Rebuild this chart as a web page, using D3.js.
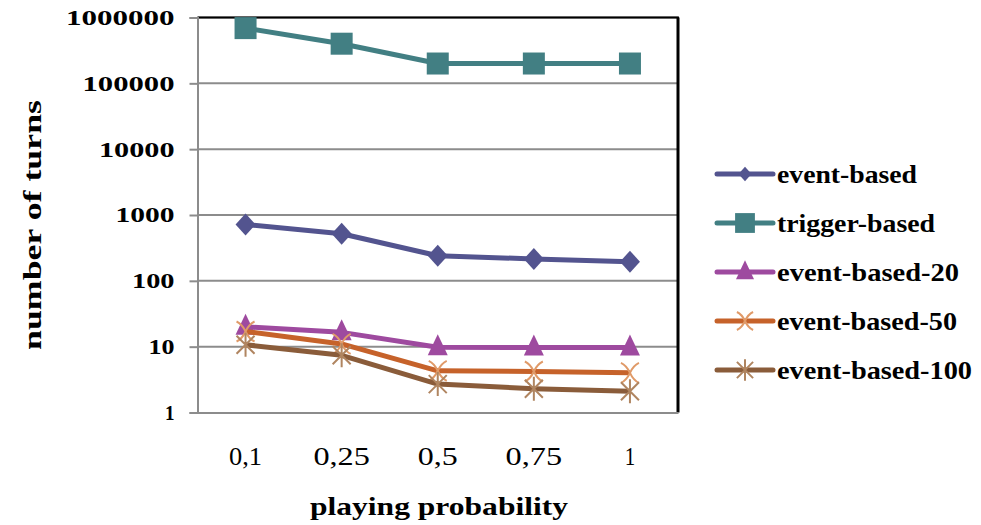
<!DOCTYPE html>
<html>
<head>
<meta charset="utf-8">
<script src="https://cdn.jsdelivr.net/npm/d3@7"></script>
<style>
  html, body { margin: 0; padding: 0; background: #fff; }
  svg { display: block; }
  text { font-family: "Liberation Serif", "DejaVu Serif", serif; fill: #000; }
</style>
</head>
<body>
<svg id="chart" width="981" height="525"></svg>
<script>
// Playing probability categories on the x axis
const categories = ["0,1", "0,25", "0,5", "0,75", "1"];

// Number of turns per strategy
const eventBased    = [720, 520, 240, 215, 195];
const triggerBased  = [690000, 400000, 200000, 200000, 200000];
const eventBased20  = [20, 16.5, 9.8, 9.7, 9.7];
const eventBased50  = [17, 11, 4.3, 4.2, 4.0];
const eventBased100 = [10.7, 7.4, 2.7, 2.3, 2.1];

const seriesNames = ["event-based", "trigger-based", "event-based-20", "event-based-50", "event-based-100"];
const yTicks = [1, 10, 100, 1000, 10000, 100000, 1000000];

const seriesValues = [eventBased, triggerBased, eventBased20, eventBased50, eventBased100];
const lineColors   = ["#53548F", "#427F83", "#9E4A9F", "#C6622A", "#8A5C3A"];
const markerColors = ["#53548F", "#427F83", "#9E4A9F", "#E09A68", "#B08560"];
const markerKinds  = ["diamond", "square", "triangle", "cross", "star"];

const svg = d3.select("#chart");
const plot = { left: 197.5, right: 678, top: 17.5, bottom: 412.5 };

const x = d3.scaleBand().domain(categories).range([plot.left, plot.right]);
const xc = d => x(d) + x.bandwidth() / 2;
const y = d3.scaleLog().domain([1, 1000000]).range([plot.bottom, plot.top]);

// horizontal gridlines
svg.append("g")
  .selectAll("line")
  .data(yTicks.slice(1))
  .join("line")
  .attr("x1", plot.left).attr("x2", plot.right)
  .attr("y1", d => y(d)).attr("y2", d => y(d))
  .attr("stroke", "#8C8C8C").attr("stroke-width", 2);

// plot frame: black top and right edges
svg.append("line")
  .attr("x1", plot.left).attr("x2", plot.right + 1)
  .attr("y1", plot.top).attr("y2", plot.top)
  .attr("stroke", "#000").attr("stroke-width", 2);
svg.append("line")
  .attr("x1", plot.right).attr("x2", plot.right)
  .attr("y1", plot.top).attr("y2", plot.bottom)
  .attr("stroke", "#000").attr("stroke-width", 3);

// digit-based width estimate for stretched labels
const labelWidth = s => {
  let w = 0;
  for (const ch of s) w += ch === "1" ? 9.5 : ch === "," ? 6 : 16.5;
  return w;
};

// y axis
const yAxis = svg.append("g")
  .attr("transform", `translate(${plot.left},0)`)
  .call(d3.axisLeft(y).tickValues(yTicks).tickFormat(d3.format("d")).tickSize(8).tickPadding(15));
yAxis.select(".domain").attr("stroke", "#8C8C8C").attr("stroke-width", 2);
yAxis.selectAll(".tick line").attr("stroke", "#8C8C8C").attr("stroke-width", 2);
yAxis.selectAll(".tick text")
  .attr("font-size", 21)
  .attr("font-weight", "bold")
  .attr("font-family", "Liberation Serif, serif")
  .attr("dy", "0.33em")
  .attr("textLength", d => labelWidth(String(d)))
  .attr("lengthAdjust", "spacingAndGlyphs");

// x axis
const xAxis = svg.append("g")
  .attr("transform", `translate(0,${plot.bottom})`)
  .call(d3.axisBottom(x).tickSize(0).tickPadding(0));
xAxis.select(".domain").attr("stroke", "#8C8C8C").attr("stroke-width", 2);
xAxis.selectAll(".tick text")
  .attr("font-size", 26)
  .attr("font-family", "Liberation Serif, serif")
  .attr("y", 52.5).attr("dy", 0)
  .attr("textLength", d => labelWidth(d) + 1)
  .attr("lengthAdjust", "spacingAndGlyphs");

// marker shapes
function drawMarker(g, kind, color, size) {
  const s = size / 20;
  if (kind === "diamond") {
    g.append("path").attr("d", `M0,${-11*s}L${10*s},0L0,${11*s}L${-10*s},0Z`).attr("fill", color);
  } else if (kind === "square") {
    g.append("rect").attr("x", -11*s).attr("y", -11*s).attr("width", 22*s).attr("height", 22*s).attr("fill", color);
  } else if (kind === "triangle") {
    g.append("path").attr("d", `M0,${-13*s}L${10*s},${8*s}L${-10*s},${8*s}Z`).attr("fill", color);
  } else if (kind === "cross") {
    g.append("path")
      .attr("d", `M${-9*s},${-10*s}C${2*s},${-5*s} ${-2*s},${5*s} ${9*s},${10*s}M${9*s},${-10*s}C${-2*s},${-5*s} ${2*s},${5*s} ${-9*s},${10*s}`)
      .attr("fill", "none").attr("stroke", color).attr("stroke-width", 2);
  } else if (kind === "star") {
    g.append("path")
      .attr("d", `M${-9*s},${-9*s}L${9*s},${9*s}M${9*s},${-9*s}L${-9*s},${9*s}M0,${-12*s}L0,${12*s}`)
      .attr("fill", "none").attr("stroke", color).attr("stroke-width", 2);
  }
}

// series lines and markers
const line = d3.line().x((d, i) => xc(categories[i])).y(d => y(d));
seriesValues.forEach((vals, si) => {
  const g = svg.append("g").attr("class", "series");
  g.append("path")
    .attr("d", line(vals))
    .attr("fill", "none")
    .attr("stroke", lineColors[si])
    .attr("stroke-width", 5)
    .attr("stroke-linejoin", "round");
  vals.forEach((v, i) => {
    const m = g.append("g").attr("transform", `translate(${xc(categories[i])},${y(v)})`);
    drawMarker(m, markerKinds[si], markerColors[si], 20);
  });
});

// axis titles
svg.append("text")
  .attr("transform", "translate(41,225) rotate(-90)")
  .attr("text-anchor", "middle")
  .attr("font-size", 26).attr("font-weight", "bold")
  .attr("textLength", 250).attr("lengthAdjust", "spacingAndGlyphs")
  .text("number of turns");

svg.append("text")
  .attr("x", 439).attr("y", 515)
  .attr("text-anchor", "middle")
  .attr("font-size", 26).attr("font-weight", "bold")
  .attr("textLength", 258).attr("lengthAdjust", "spacingAndGlyphs")
  .text("playing probability");

// legend
const legendWidths = [140, 158, 182, 180, 195];
const legendY = d3.scalePoint().domain(seriesNames).range([174, 370]);
seriesNames.forEach((name, si) => {
  const g = svg.append("g").attr("transform", `translate(0,${legendY(name)})`);
  g.append("line")
    .attr("x1", 717).attr("x2", 773).attr("y1", 0).attr("y2", 0)
    .attr("stroke", lineColors[si]).attr("stroke-width", 5).attr("stroke-linecap", "round");
  const m = g.append("g").attr("transform", "translate(745,0)");
  drawMarker(m, markerKinds[si], markerColors[si], si === 0 ? 13 : 18);
  g.append("text")
    .attr("x", 777).attr("y", 9)
    .attr("font-size", 26).attr("font-weight", "bold")
    .attr("textLength", legendWidths[si]).attr("lengthAdjust", "spacingAndGlyphs")
    .text(name);
});
</script>
</body>
</html>
